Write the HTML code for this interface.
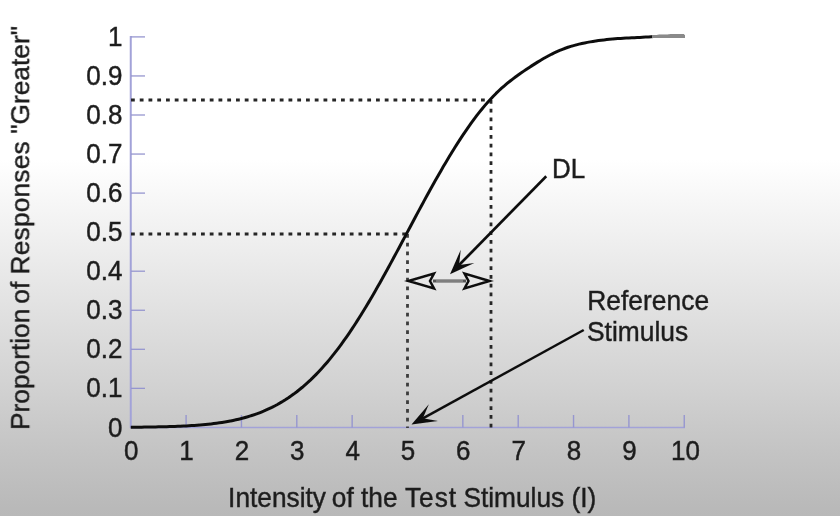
<!DOCTYPE html>
<html><head><meta charset="utf-8"><title>Psychometric function</title>
<style>
html,body{margin:0;padding:0;}
body{width:840px;height:516px;overflow:hidden;background:#d8d8d8;}
#chart{display:block;width:840px;height:516px;background:linear-gradient(to bottom,#ffffff 0px,#ffffff 160px,#f5f5f5 210px,#e9e9e9 270px,#dddddd 330px,#d1d1d1 390px,#c4c4c4 450px,#b9b9b9 508px,#b8b8b8 516px);}
</style></head><body>
<svg id="chart" width="840" height="516" viewBox="0 0 840 516">
<defs><filter id="soft" x="-2%" y="-2%" width="104%" height="104%"><feGaussianBlur stdDeviation="0.65"/></filter></defs>
<g filter="url(#soft)">
<line x1="130.75" y1="36" x2="130.75" y2="428" stroke="#a2a2d8" stroke-width="2"/>
<line x1="130" y1="427.5" x2="685" y2="427.5" stroke="#a2a2d8" stroke-width="1.6"/>
<line x1="131" y1="388.35" x2="145" y2="388.35" stroke="#9696cf" stroke-width="1.3"/>
<line x1="131" y1="349.30" x2="145" y2="349.30" stroke="#9696cf" stroke-width="1.3"/>
<line x1="131" y1="310.25" x2="145" y2="310.25" stroke="#9696cf" stroke-width="1.3"/>
<line x1="131" y1="271.20" x2="145" y2="271.20" stroke="#9696cf" stroke-width="1.3"/>
<line x1="131" y1="193.10" x2="145" y2="193.10" stroke="#9696cf" stroke-width="1.3"/>
<line x1="131" y1="154.05" x2="145" y2="154.05" stroke="#9696cf" stroke-width="1.3"/>
<line x1="131" y1="115.00" x2="145" y2="115.00" stroke="#9696cf" stroke-width="1.3"/>
<line x1="131" y1="75.95" x2="145" y2="75.95" stroke="#9696cf" stroke-width="1.3"/>
<line x1="131" y1="36.90" x2="145" y2="36.90" stroke="#9696cf" stroke-width="1.3"/>
<line x1="186.10" y1="415" x2="186.10" y2="427.5" stroke="#9696cf" stroke-width="1.4"/>
<line x1="241.45" y1="415" x2="241.45" y2="427.5" stroke="#9696cf" stroke-width="1.4"/>
<line x1="296.80" y1="415" x2="296.80" y2="427.5" stroke="#9696cf" stroke-width="1.4"/>
<line x1="352.15" y1="415" x2="352.15" y2="427.5" stroke="#9696cf" stroke-width="1.4"/>
<line x1="462.85" y1="415" x2="462.85" y2="427.5" stroke="#9696cf" stroke-width="1.4"/>
<line x1="518.20" y1="415" x2="518.20" y2="427.5" stroke="#9696cf" stroke-width="1.4"/>
<line x1="573.55" y1="415" x2="573.55" y2="427.5" stroke="#9696cf" stroke-width="1.4"/>
<line x1="628.90" y1="415" x2="628.90" y2="427.5" stroke="#9696cf" stroke-width="1.4"/>
<line x1="684.25" y1="415" x2="684.25" y2="427.5" stroke="#9696cf" stroke-width="1.4"/>
<line x1="131" y1="100" x2="490" y2="100" stroke="#262626" stroke-width="3.2" stroke-dasharray="3.8 4.95"/>
<line x1="131" y1="234" x2="407.5" y2="234" stroke="#262626" stroke-width="3.2" stroke-dasharray="3.8 4.95"/>
<line x1="407.5" y1="234" x2="407.5" y2="428" stroke="#3c3c3c" stroke-width="2.8" stroke-dasharray="3.8 4.95"/>
<line x1="491" y1="100" x2="491" y2="428" stroke="#262626" stroke-width="2.8" stroke-dasharray="3.8 4.95"/>
<path d="M130.75,427.23 L133.52,427.21 L136.28,427.19 L139.05,427.16 L141.82,427.13 L144.59,427.10 L147.35,427.06 L150.12,427.02 L152.89,426.98 L155.66,426.93 L158.43,426.87 L161.19,426.81 L163.96,426.74 L166.73,426.67 L169.50,426.59 L172.26,426.50 L175.03,426.40 L177.80,426.29 L180.56,426.17 L183.33,426.04 L186.10,425.90 L188.87,425.75 L191.63,425.58 L194.40,425.39 L197.17,425.19 L199.94,424.97 L202.70,424.73 L205.47,424.48 L208.24,424.19 L211.01,423.89 L213.78,423.56 L216.54,423.21 L219.31,422.82 L222.08,422.41 L224.84,421.96 L227.61,421.48 L230.38,420.97 L233.15,420.42 L235.91,419.82 L238.68,419.19 L241.45,418.50 L244.22,417.78 L246.99,417.00 L249.75,416.17 L252.52,415.29 L255.29,414.35 L258.06,413.35 L260.82,412.29 L263.59,411.17 L266.36,409.97 L269.12,408.71 L271.89,407.38 L274.66,405.97 L277.43,404.49 L280.20,402.92 L282.96,401.28 L285.73,399.55 L288.50,397.73 L291.26,395.82 L294.03,393.83 L296.80,391.74 L299.57,389.55 L302.34,387.27 L305.10,384.89 L307.87,382.41 L310.64,379.83 L313.40,377.14 L316.17,374.35 L318.94,371.46 L321.71,368.47 L324.48,365.37 L327.24,362.16 L330.01,358.85 L332.78,355.43 L335.55,351.91 L338.31,348.29 L341.08,344.56 L343.85,340.74 L346.62,336.81 L349.38,332.79 L352.15,328.68 L354.92,324.47 L357.68,320.17 L360.45,315.78 L363.22,311.31 L365.99,306.76 L368.75,302.14 L371.52,297.44 L374.29,292.67 L377.06,287.84 L379.83,282.95 L382.59,278.00 L385.36,273.01 L388.13,267.97 L390.90,262.89 L393.66,257.78 L396.43,252.64 L399.20,247.47 L401.97,242.29 L404.73,237.10 L407.50,231.90 L410.27,226.70 L413.03,221.51 L415.80,216.33 L418.57,211.16 L421.34,206.02 L424.11,200.91 L426.87,195.83 L429.64,190.79 L432.41,185.80 L435.18,180.85 L437.94,175.96 L440.71,171.13 L443.48,166.36 L446.25,161.67 L449.01,157.04 L451.78,152.49 L454.55,148.03 L457.32,143.65 L460.08,139.36 L462.85,135.16 L465.62,131.06 L468.38,127.06 L471.15,123.16 L473.92,119.38 L476.69,115.70 L479.45,112.15 L482.22,108.71 L484.99,105.40 L487.76,102.22 L490.53,99.16 L493.29,96.24 L496.06,93.44 L498.83,90.77 L501.60,88.22 L504.36,85.78 L507.13,83.46 L509.90,81.22 L512.66,79.08 L515.43,77.01 L518.20,75.00 L520.97,73.05 L523.74,71.14 L526.50,69.27 L529.27,67.43 L532.04,65.63 L534.81,63.87 L537.57,62.14 L540.34,60.45 L543.11,58.82 L545.88,57.24 L548.64,55.73 L551.41,54.28 L554.18,52.92 L556.94,51.63 L559.71,50.42 L562.48,49.30 L565.25,48.26 L568.02,47.29 L570.78,46.40 L573.55,45.58 L576.32,44.83 L579.09,44.14 L581.85,43.50 L584.62,42.91 L587.39,42.37 L590.15,41.87 L592.92,41.42 L595.69,40.99 L598.46,40.60 L601.23,40.24 L603.99,39.91 L606.76,39.61 L609.53,39.33 L612.29,39.07 L615.06,38.83 L617.83,38.61 L620.60,38.41 L623.37,38.22 L626.13,38.05 L628.90,37.90 L631.67,37.76 L634.43,37.63 L637.20,37.51 L639.97,37.40 L642.74,37.22 L645.51,37.05 L648.27,36.88 L651.04,36.72 L653.81,36.57 L656.58,36.43 L659.34,36.29 L662.11,36.22 L664.88,36.18 L667.64,36.14 L670.41,36.10 L673.18,36.07 L675.95,36.04 L678.72,36.01 L681.48,35.99 L684.25,35.97" fill="none" stroke="#111" stroke-width="3" stroke-linejoin="round"/>
<line x1="652" y1="36.4" x2="685" y2="36.4" stroke="#8a8a8a" stroke-width="3"/>
<text transform="translate(122.40 436.50) scale(1 1.065)" text-anchor="end" font-family="Liberation Sans, Arial, sans-serif" font-size="26" fill="#1e1e1e" stroke="#1e1e1e" stroke-width="0.42">0</text>
<text transform="translate(122.40 397.44) scale(1 1.065)" text-anchor="end" font-family="Liberation Sans, Arial, sans-serif" font-size="26" fill="#1e1e1e" stroke="#1e1e1e" stroke-width="0.42">0.1</text>
<text transform="translate(122.40 358.38) scale(1 1.065)" text-anchor="end" font-family="Liberation Sans, Arial, sans-serif" font-size="26" fill="#1e1e1e" stroke="#1e1e1e" stroke-width="0.42">0.2</text>
<text transform="translate(122.40 319.32) scale(1 1.065)" text-anchor="end" font-family="Liberation Sans, Arial, sans-serif" font-size="26" fill="#1e1e1e" stroke="#1e1e1e" stroke-width="0.42">0.3</text>
<text transform="translate(122.40 280.26) scale(1 1.065)" text-anchor="end" font-family="Liberation Sans, Arial, sans-serif" font-size="26" fill="#1e1e1e" stroke="#1e1e1e" stroke-width="0.42">0.4</text>
<text transform="translate(122.40 241.20) scale(1 1.065)" text-anchor="end" font-family="Liberation Sans, Arial, sans-serif" font-size="26" fill="#1e1e1e" stroke="#1e1e1e" stroke-width="0.42">0.5</text>
<text transform="translate(122.40 202.14) scale(1 1.065)" text-anchor="end" font-family="Liberation Sans, Arial, sans-serif" font-size="26" fill="#1e1e1e" stroke="#1e1e1e" stroke-width="0.42">0.6</text>
<text transform="translate(122.40 163.08) scale(1 1.065)" text-anchor="end" font-family="Liberation Sans, Arial, sans-serif" font-size="26" fill="#1e1e1e" stroke="#1e1e1e" stroke-width="0.42">0.7</text>
<text transform="translate(122.40 124.02) scale(1 1.065)" text-anchor="end" font-family="Liberation Sans, Arial, sans-serif" font-size="26" fill="#1e1e1e" stroke="#1e1e1e" stroke-width="0.42">0.8</text>
<text transform="translate(122.40 84.96) scale(1 1.065)" text-anchor="end" font-family="Liberation Sans, Arial, sans-serif" font-size="26" fill="#1e1e1e" stroke="#1e1e1e" stroke-width="0.42">0.9</text>
<text transform="translate(122.40 45.90) scale(1 1.065)" text-anchor="end" font-family="Liberation Sans, Arial, sans-serif" font-size="26" fill="#1e1e1e" stroke="#1e1e1e" stroke-width="0.42">1</text>
<text transform="translate(131.25 459.60) scale(1 1.065)" text-anchor="middle" font-family="Liberation Sans, Arial, sans-serif" font-size="26" fill="#1e1e1e" stroke="#1e1e1e" stroke-width="0.42">0</text>
<text transform="translate(186.60 459.60) scale(1 1.065)" text-anchor="middle" font-family="Liberation Sans, Arial, sans-serif" font-size="26" fill="#1e1e1e" stroke="#1e1e1e" stroke-width="0.42">1</text>
<text transform="translate(241.95 459.60) scale(1 1.065)" text-anchor="middle" font-family="Liberation Sans, Arial, sans-serif" font-size="26" fill="#1e1e1e" stroke="#1e1e1e" stroke-width="0.42">2</text>
<text transform="translate(297.30 459.60) scale(1 1.065)" text-anchor="middle" font-family="Liberation Sans, Arial, sans-serif" font-size="26" fill="#1e1e1e" stroke="#1e1e1e" stroke-width="0.42">3</text>
<text transform="translate(352.65 459.60) scale(1 1.065)" text-anchor="middle" font-family="Liberation Sans, Arial, sans-serif" font-size="26" fill="#1e1e1e" stroke="#1e1e1e" stroke-width="0.42">4</text>
<text transform="translate(408.00 459.60) scale(1 1.065)" text-anchor="middle" font-family="Liberation Sans, Arial, sans-serif" font-size="26" fill="#1e1e1e" stroke="#1e1e1e" stroke-width="0.42">5</text>
<text transform="translate(463.35 459.60) scale(1 1.065)" text-anchor="middle" font-family="Liberation Sans, Arial, sans-serif" font-size="26" fill="#1e1e1e" stroke="#1e1e1e" stroke-width="0.42">6</text>
<text transform="translate(518.70 459.60) scale(1 1.065)" text-anchor="middle" font-family="Liberation Sans, Arial, sans-serif" font-size="26" fill="#1e1e1e" stroke="#1e1e1e" stroke-width="0.42">7</text>
<text transform="translate(574.05 459.60) scale(1 1.065)" text-anchor="middle" font-family="Liberation Sans, Arial, sans-serif" font-size="26" fill="#1e1e1e" stroke="#1e1e1e" stroke-width="0.42">8</text>
<text transform="translate(629.40 459.60) scale(1 1.065)" text-anchor="middle" font-family="Liberation Sans, Arial, sans-serif" font-size="26" fill="#1e1e1e" stroke="#1e1e1e" stroke-width="0.42">9</text>
<text transform="translate(685.45 459.60) scale(1 1.065)" text-anchor="middle" font-family="Liberation Sans, Arial, sans-serif" font-size="26" fill="#1e1e1e" stroke="#1e1e1e" stroke-width="0.42">10</text>
<text transform="translate(228.10 507.10) scale(1 1.065)" text-anchor="start" font-family="Liberation Sans, Arial, sans-serif" font-size="26.3" fill="#1e1e1e" stroke="#1e1e1e" stroke-width="0.42">Intensity<tspan dx="-1.5"> of the </tspan><tspan letter-spacing="1">Tes</tspan>t Stimulus (I)</text>
<text transform="translate(29.2 228) rotate(-90)" text-anchor="middle" font-family="Liberation Sans, Arial, sans-serif" font-size="26.3" fill="#1e1e1e" stroke="#1e1e1e" stroke-width="0.42">Proportion<tspan dx="-2.3"> of </tspan><tspan letter-spacing="0.2">Responses</tspan> "Greater"</text>
<text transform="translate(552.00 177.60) scale(1 1.065)" text-anchor="start" font-family="Liberation Sans, Arial, sans-serif" font-size="26" fill="#1e1e1e" stroke="#1e1e1e" stroke-width="0.42">DL</text>
<text transform="translate(587.30 309.90) scale(1 1.065)" text-anchor="start" font-family="Liberation Sans, Arial, sans-serif" font-size="26.4" fill="#1e1e1e" stroke="#1e1e1e" stroke-width="0.42">Reference</text>
<text transform="translate(587.00 340.60) scale(1 1.065)" text-anchor="start" font-family="Liberation Sans, Arial, sans-serif" font-size="26.4" fill="#1e1e1e" stroke="#1e1e1e" stroke-width="0.42">Stimulus</text>
<line x1="546.25" y1="176.25" x2="459.11" y2="265.02" stroke="#111" stroke-width="2.6"/><polygon points="450.00,274.30 460.73,249.80 459.11,265.02 474.29,263.11" fill="#111"/>
<line x1="583.75" y1="330.00" x2="422.89" y2="418.34" stroke="#111" stroke-width="2.5"/><polygon points="411.50,424.60 428.84,404.24 422.89,418.34 437.99,420.89" fill="#111"/>
<line x1="433" y1="281" x2="466" y2="281" stroke="#555" stroke-width="3.2"/>
<line x1="436" y1="281" x2="463" y2="281" stroke="#aaa" stroke-width="1"/>
<polygon points="408.5,281 434,273.6 430,281 434,288.4" fill="none" stroke="#111" stroke-width="2.5" stroke-linejoin="miter"/>
<polygon points="489.5,281 464.5,273.6 468.5,281 464.5,288.4" fill="none" stroke="#111" stroke-width="2.5" stroke-linejoin="miter"/>
</g>
</svg>
</body></html>
